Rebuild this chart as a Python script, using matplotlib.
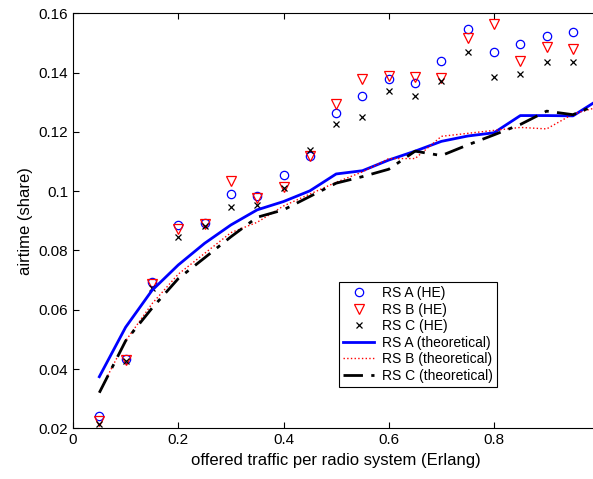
import matplotlib
matplotlib.use("Agg")
import matplotlib.pyplot as plt

plt.rcParams['font.family'] = ['Liberation Sans', 'DejaVu Sans']

# offered traffic (Erlang)
traffic = [0.05, 0.10, 0.15, 0.20, 0.25, 0.30, 0.35, 0.40, 0.45, 0.50,
           0.55, 0.60, 0.65, 0.70, 0.75, 0.80, 0.85, 0.90, 0.95]

# measured airtime (HE)
he_a = [0.0240, 0.0433, 0.0692, 0.0887, 0.0893, 0.0990, 0.0983, 0.1056, 0.1117, 0.1263,
        0.1322, 0.1379, 0.1364, 0.1438, 0.1547, 0.1471, 0.1496, 0.1522, 0.1537]
he_b = [0.0225, 0.0430, 0.0688, 0.0872, 0.0890, 0.1033, 0.0978, 0.1015, 0.1118, 0.1295,
        0.1380, 0.1389, 0.1385, 0.1381, 0.1516, 0.1563, 0.1438, 0.1485, 0.1481]
he_c = [0.0215, 0.0428, 0.0672, 0.0846, 0.0882, 0.0946, 0.0954, 0.1012, 0.1140, 0.1227,
        0.1249, 0.1337, 0.1320, 0.1370, 0.1468, 0.1384, 0.1395, 0.1436, 0.1435]

# theoretical curves
th_x = [0.05, 0.10, 0.15, 0.20, 0.25, 0.30, 0.35, 0.40, 0.45, 0.50,
        0.55, 0.60, 0.65, 0.70, 0.75, 0.80, 0.85, 0.90, 0.95, 1.00]
th_a = [0.0374, 0.0541, 0.0665, 0.0751, 0.0824, 0.0886, 0.0937, 0.0965, 0.1001, 0.1058,
        0.1069, 0.1105, 0.1135, 0.1168, 0.1186, 0.1197, 0.1255, 0.1255, 0.1254, 0.1310]
th_b = [0.0322, 0.0495, 0.0620, 0.0720, 0.0790, 0.0860, 0.0895, 0.0950, 0.0990, 0.1030,
        0.1065, 0.1110, 0.1110, 0.1185, 0.1195, 0.1205, 0.1215, 0.1210, 0.1260, 0.1285]
th_c = [0.0320, 0.0495, 0.0605, 0.0705, 0.0775, 0.0846, 0.0912, 0.0937, 0.0982, 0.1027,
        0.1049, 0.1074, 0.1135, 0.1120, 0.1156, 0.1190, 0.1225, 0.1270, 0.1258, 0.1295]

fig = plt.figure(figsize=(5.93, 4.79), dpi=100)
ax = fig.add_axes([73 / 593, 1 - 428.3 / 479, 526.3 / 593, 415 / 479])

ax.plot(traffic, he_a, 'o', mfc='none', mec='#0000ff', ms=6, mew=0.9, label='RS A (HE)')
ax.plot(traffic, he_b, 'v', mfc='none', mec='#ff0000', ms=6.5, mew=0.9, label='RS B (HE)')
ax.plot(traffic, he_c, 'x', color='black', ms=4, mew=0.9, label='RS C (HE)')
ax.plot(th_x, th_a, '-', color='#0000ff', lw=2, label='RS A (theoretical)')
ax.plot(th_x, th_b, ':', color='#ff0000', lw=1, label='RS B (theoretical)')
ax.plot(th_x, th_c, '-.', color='black', lw=2, dashes=(7, 3, 1.5, 3), label='RS C (theoretical)')

ax.set_xlim(0, 1)
ax.set_ylim(0.02, 0.16)
ax.set_xticks([0, 0.2, 0.4, 0.6, 0.8])
ax.set_xticklabels(['0', '0.2', '0.4', '0.6', '0.8'])
ax.set_yticks([0.02, 0.04, 0.06, 0.08, 0.1, 0.12, 0.14, 0.16])
ax.set_yticklabels(['0.02', '0.04', '0.06', '0.08', '0.1', '0.12', '0.14', '0.16'])
ax.tick_params(direction='in', top=True, right=True, labelsize=11, length=4)
ax.set_xlabel('offered traffic per radio system (Erlang)', fontsize=12)
ax.set_ylabel('airtime (share)', fontsize=12)

leg = ax.legend(loc='lower right', bbox_to_anchor=(0.806, 0.0995), fontsize=10,
                frameon=True, fancybox=False, edgecolor='black', framealpha=1,
                labelspacing=0.18, handlelength=2.2, borderpad=0.3, handletextpad=0.6,
                borderaxespad=0)
leg.get_frame().set_linewidth(0.8)

fig.savefig('out.png', dpi=100)
